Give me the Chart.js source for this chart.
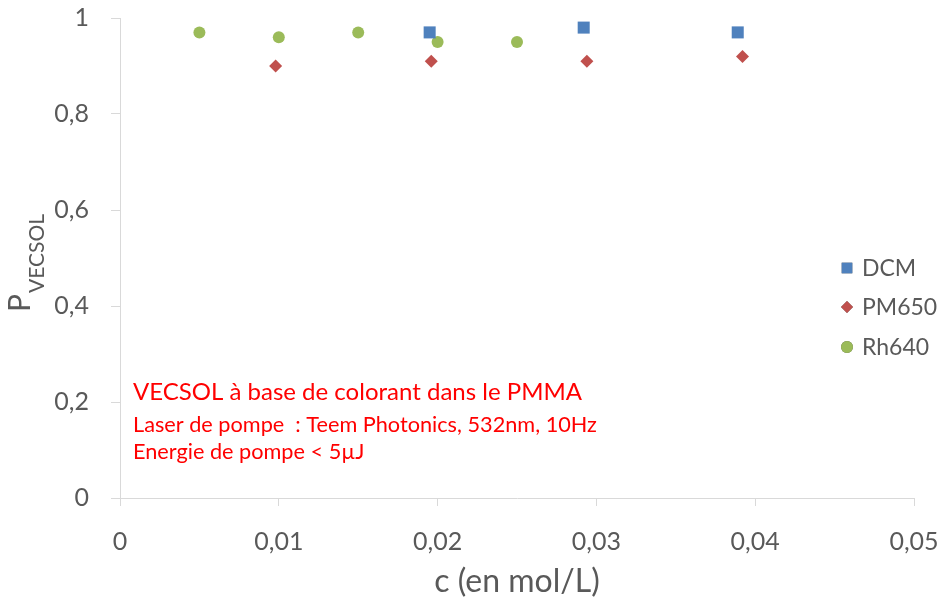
<!DOCTYPE html>
<html>
<head>
<meta charset="utf-8">
<script src="https://cdn.jsdelivr.net/npm/chart.js@4.4.1/dist/chart.umd.min.js"></script>
<style>
  html, body { margin: 0; padding: 0; background: #ffffff; }
  #wrap { width: 940px; height: 605px; position: relative; }
</style>
</head>
<body>
<div id="wrap"><canvas id="chart" width="940" height="605"></canvas></div>
<script>
// Concentration (mol/L) and VECSOL probability for each dye
const dcmC = [0.0195, 0.0292, 0.0389];
const dcmP = [0.97, 0.98, 0.97];
const pm650C = [0.0098, 0.0196, 0.0294, 0.0392];
const pm650P = [0.90, 0.91, 0.91, 0.92];
const rh640C = [0.005, 0.010, 0.015, 0.020, 0.025];
const rh640P = [0.97, 0.96, 0.97, 0.95, 0.95];

const seriesNames = ['DCM', 'PM650', 'Rh640'];
const xTicks = [0, 0.01, 0.02, 0.03, 0.04, 0.05];
const yTicks = [0, 0.2, 0.4, 0.6, 0.8, 1];
const noteLines = [
  'VECSOL à base de colorant dans le PMMA',
  'Laser de pompe  : Teem Photonics, 532nm, 10Hz',
  'Energie de pompe < 5µJ'
];

const FONT = 'Lato, "Open Sans", "Liberation Sans", sans-serif';
const GREY = '#595959';
const AXIS = '#d9d9d9';
const colors = ['#4F81BD', '#C0504D', '#9BBB59'];
const styles = ['rect', 'rectRot', 'circle'];
const radii = [8.5, 6.5, 6];

const toPts = (xs, ys) => xs.map((x, i) => ({ x: x, y: ys[i] }));
const frComma = v => String(v).replace('.', ',');

const datasets = [[dcmC, dcmP], [pm650C, pm650P], [rh640C, rh640P]].map((d, i) => ({
  label: seriesNames[i],
  data: toPts(d[0], d[1]),
  pointStyle: styles[i],
  pointRadius: radii[i],
  pointHoverRadius: radii[i],
  backgroundColor: colors[i],
  borderColor: colors[i],
  borderWidth: 0,
  showLine: false
}));

// Titles, legend and the red note are painted on top of the chart
const decorations = {
  id: 'decorations',
  afterDraw(chart) {
    const ctx = chart.ctx;
    const area = chart.chartArea;
    ctx.save();

    // Y title: P with subscript VECSOL, rotated
    ctx.translate(30, 312);
    ctx.rotate(-Math.PI / 2);
    ctx.fillStyle = GREY;
    ctx.textBaseline = 'alphabetic';
    ctx.textAlign = 'left';
    ctx.font = '30px ' + FONT;
    ctx.fillText('P', 0, 0);
    const pw = ctx.measureText('P').width;
    ctx.font = '21px ' + FONT;
    ctx.fillText('VECSOL', pw + 1, 14);
    ctx.setTransform(1, 0, 0, 1, 0, 0);

    // X title
    ctx.font = '32px ' + FONT;
    ctx.textAlign = 'center';
    ctx.textBaseline = 'middle';
    ctx.fillText('c (en mol/L)', (area.left + area.right) / 2, 582);

    // Legend
    ctx.textAlign = 'left';
    ctx.font = '23px ' + FONT;
    const rows = [268, 307, 347];
    datasets.forEach((ds, i) => {
      Chart.helpers.drawPoint(ctx, {
        pointStyle: ds.pointStyle,
        radius: i === 0 ? 7.5 : 6,
        borderWidth: 0
      }, 847, rows[i]);
      ctx.fillStyle = colors[i];
      ctx.fill();
      ctx.fillStyle = GREY;
      ctx.fillText(ds.label, 862, rows[i] + 1);
    });

    // Note in red
    ctx.fillStyle = '#FF0000';
    ctx.font = '24px ' + FONT;
    ctx.fillText(noteLines[0], 133, 392);
    ctx.font = '21.7px ' + FONT;
    ctx.fillText(noteLines[1], 133, 425);
    ctx.fillText(noteLines[2], 133, 452);
    ctx.restore();
  }
};

new Chart(document.getElementById('chart'), {
  type: 'scatter',
  data: { datasets: datasets },
  options: {
    responsive: false,
    animation: false,
    layout: { padding: { top: 18, right: 26, left: 0, bottom: 0 } },
    plugins: { legend: { display: false }, tooltip: { enabled: false } },
    scales: {
      x: {
        type: 'linear',
        min: xTicks[0],
        max: xTicks[xTicks.length - 1],
        afterBuildTicks: s => { s.ticks = xTicks.map(v => ({ value: v })); },
        afterFit: s => { s.height = 107; s.paddingLeft = 0; s.paddingRight = 0; },
        border: { display: true, color: AXIS, width: 1 },
        grid: { display: true, drawOnChartArea: false, drawTicks: true, tickLength: 8, color: AXIS },
        ticks: {
          padding: 21,
          color: GREY,
          font: { family: FONT, size: 25 },
          callback: v => frComma(v),
          maxRotation: 0
        }
      },
      y: {
        type: 'linear',
        min: yTicks[0],
        max: yTicks[yTicks.length - 1],
        afterBuildTicks: s => { s.ticks = yTicks.map(v => ({ value: v })); },
        afterFit: s => { s.width = 120; s.paddingTop = 0; s.paddingBottom = 0; },
        border: { display: true, color: AXIS, width: 1 },
        grid: { display: true, drawOnChartArea: false, drawTicks: true, tickLength: 9, color: AXIS },
        ticks: {
          padding: 22,
          color: GREY,
          font: { family: FONT, size: 25 },
          callback: v => frComma(v)
        }
      }
    }
  },
  plugins: [decorations]
});
</script>
</body>
</html>
